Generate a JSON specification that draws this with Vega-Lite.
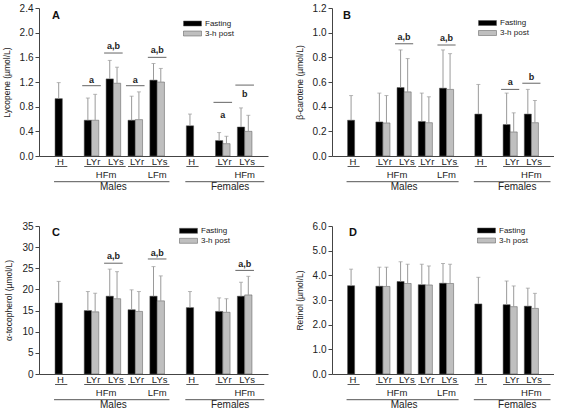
{
"$schema": "https://vega.github.io/schema/vega-lite/v6.json",
"padding": {"left": 2, "top": 3, "right": 0, "bottom": 0},
"config": {"view": {"stroke": null}, "font": "Liberation Sans",
 "axis": {"domainColor": "#444", "tickColor": "#444", "labelColor": "#222", "labelFontSize": 10, "titleFontSize": 8.5, "titleFontWeight": "normal", "titleColor": "#222", "tickSize": 4, "labelPadding": 2, "titlePadding": 8, "grid": false},
 "legend": {"orient": "none", "title": null, "symbolType": "M-1.8,-0.5H1.8V0.5H-1.8Z", "symbolSize": 100, "labelFontSize": 8, "labelOffset": 7, "rowPadding": 0, "padding": 0, "symbolStrokeWidth": 0.5, "symbolStrokeColor": "#555", "labelColor": "#222"},
 "title": {"anchor": "start", "frame": "group", "orient": "top", "offset": 0, "baseline": "top", "fontSize": 11, "fontWeight": "bold", "color": "#111"}
},
"datasets": {
 "bars_A": [
  {"bar": "M-H", "time": "Fasting", "value": 0.93, "upper": 1.19},
  {"bar": "M-HFm-LYr-F", "time": "Fasting", "value": 0.58, "upper": 0.94},
  {"bar": "M-HFm-LYr-P", "time": "3-h post", "value": 0.58, "upper": 1.0},
  {"bar": "M-HFm-LYs-F", "time": "Fasting", "value": 1.25, "upper": 1.55},
  {"bar": "M-HFm-LYs-P", "time": "3-h post", "value": 1.18, "upper": 1.44},
  {"bar": "M-LFm-LYr-F", "time": "Fasting", "value": 0.58, "upper": 0.97},
  {"bar": "M-LFm-LYr-P", "time": "3-h post", "value": 0.59, "upper": 1.04},
  {"bar": "M-LFm-LYs-F", "time": "Fasting", "value": 1.23, "upper": 1.5},
  {"bar": "M-LFm-LYs-P", "time": "3-h post", "value": 1.2, "upper": 1.42},
  {"bar": "F-H", "time": "Fasting", "value": 0.49, "upper": 0.68},
  {"bar": "F-HFm-LYr-F", "time": "Fasting", "value": 0.25, "upper": 0.38},
  {"bar": "F-HFm-LYr-P", "time": "3-h post", "value": 0.2, "upper": 0.32},
  {"bar": "F-HFm-LYs-F", "time": "Fasting", "value": 0.47, "upper": 0.78},
  {"bar": "F-HFm-LYs-P", "time": "3-h post", "value": 0.4, "upper": 0.66}
 ],
 "bars_B": [
  {"bar": "M-H", "time": "Fasting", "value": 0.29, "upper": 0.49},
  {"bar": "M-HFm-LYr-F", "time": "Fasting", "value": 0.276, "upper": 0.51},
  {"bar": "M-HFm-LYr-P", "time": "3-h post", "value": 0.268, "upper": 0.49},
  {"bar": "M-HFm-LYs-F", "time": "Fasting", "value": 0.555, "upper": 0.86},
  {"bar": "M-HFm-LYs-P", "time": "3-h post", "value": 0.52, "upper": 0.79},
  {"bar": "M-LFm-LYr-F", "time": "Fasting", "value": 0.28, "upper": 0.51},
  {"bar": "M-LFm-LYr-P", "time": "3-h post", "value": 0.27, "upper": 0.48},
  {"bar": "M-LFm-LYs-F", "time": "Fasting", "value": 0.55, "upper": 0.86},
  {"bar": "M-LFm-LYs-P", "time": "3-h post", "value": 0.54, "upper": 0.83},
  {"bar": "F-H", "time": "Fasting", "value": 0.34, "upper": 0.58},
  {"bar": "F-HFm-LYr-F", "time": "Fasting", "value": 0.255, "upper": 0.51},
  {"bar": "F-HFm-LYr-P", "time": "3-h post", "value": 0.195, "upper": 0.35},
  {"bar": "F-HFm-LYs-F", "time": "Fasting", "value": 0.34, "upper": 0.54},
  {"bar": "F-HFm-LYs-P", "time": "3-h post", "value": 0.27, "upper": 0.45}
 ],
 "bars_C": [
  {"bar": "M-H", "time": "Fasting", "value": 16.8, "upper": 21.9},
  {"bar": "M-HFm-LYr-F", "time": "Fasting", "value": 15.0, "upper": 19.5},
  {"bar": "M-HFm-LYr-P", "time": "3-h post", "value": 14.7, "upper": 19.1},
  {"bar": "M-HFm-LYs-F", "time": "Fasting", "value": 18.4, "upper": 24.8},
  {"bar": "M-HFm-LYs-P", "time": "3-h post", "value": 17.8, "upper": 24.2},
  {"bar": "M-LFm-LYr-F", "time": "Fasting", "value": 15.2, "upper": 19.9},
  {"bar": "M-LFm-LYr-P", "time": "3-h post", "value": 14.8, "upper": 19.5},
  {"bar": "M-LFm-LYs-F", "time": "Fasting", "value": 18.4, "upper": 25.4},
  {"bar": "M-LFm-LYs-P", "time": "3-h post", "value": 17.3, "upper": 23.2},
  {"bar": "F-H", "time": "Fasting", "value": 15.7, "upper": 19.5},
  {"bar": "F-HFm-LYr-F", "time": "Fasting", "value": 14.8, "upper": 18.0},
  {"bar": "F-HFm-LYr-P", "time": "3-h post", "value": 14.6, "upper": 17.8},
  {"bar": "F-HFm-LYs-F", "time": "Fasting", "value": 18.4, "upper": 21.7},
  {"bar": "F-HFm-LYs-P", "time": "3-h post", "value": 18.7, "upper": 23.1}
 ],
 "bars_D": [
  {"bar": "M-H", "time": "Fasting", "value": 3.58, "upper": 4.25},
  {"bar": "M-HFm-LYr-F", "time": "Fasting", "value": 3.56, "upper": 4.33},
  {"bar": "M-HFm-LYr-P", "time": "3-h post", "value": 3.55, "upper": 4.33},
  {"bar": "M-HFm-LYs-F", "time": "Fasting", "value": 3.75, "upper": 4.55},
  {"bar": "M-HFm-LYs-P", "time": "3-h post", "value": 3.67, "upper": 4.45},
  {"bar": "M-LFm-LYr-F", "time": "Fasting", "value": 3.62, "upper": 4.45},
  {"bar": "M-LFm-LYr-P", "time": "3-h post", "value": 3.61, "upper": 4.38},
  {"bar": "M-LFm-LYs-F", "time": "Fasting", "value": 3.68, "upper": 4.48},
  {"bar": "M-LFm-LYs-P", "time": "3-h post", "value": 3.67, "upper": 4.45},
  {"bar": "F-H", "time": "Fasting", "value": 2.84, "upper": 3.92},
  {"bar": "F-HFm-LYr-F", "time": "Fasting", "value": 2.81, "upper": 3.77},
  {"bar": "F-HFm-LYr-P", "time": "3-h post", "value": 2.73, "upper": 3.57},
  {"bar": "F-HFm-LYs-F", "time": "Fasting", "value": 2.75, "upper": 3.48},
  {"bar": "F-HFm-LYs-P", "time": "3-h post", "value": 2.66, "upper": 3.27}
 ],
 "ann_A": [
  {"from": "M-HFm-LYr-F", "to": "M-HFm-LYr-P", "line": 1.14, "ty": 1.24, "label": "a"},
  {"from": "M-HFm-LYs-F", "to": "M-HFm-LYs-P", "line": 1.67, "ty": 1.78, "label": "a,b"},
  {"from": "M-LFm-LYr-F", "to": "M-LFm-LYr-P", "line": 1.14, "ty": 1.24, "label": "a"},
  {"from": "M-LFm-LYs-F", "to": "M-LFm-LYs-P", "line": 1.6, "ty": 1.72, "label": "a,b"},
  {"from": "F-HFm-LYr-F", "to": "F-HFm-LYr-P", "line": 0.87, "ty": 0.67, "label": "a"},
  {"from": "F-HFm-LYs-F", "to": "F-HFm-LYs-P", "line": 1.15, "ty": 1.01, "label": "b"}
 ],
 "ann_B": [
  {"from": "M-HFm-LYs-F", "to": "M-HFm-LYs-P", "line": 0.91, "ty": 0.967, "label": "a,b"},
  {"from": "M-LFm-LYs-F", "to": "M-LFm-LYs-P", "line": 0.9, "ty": 0.954, "label": "a,b"},
  {"from": "F-HFm-LYr-F", "to": "F-HFm-LYr-P", "line": 0.54, "ty": 0.604, "label": "a"},
  {"from": "F-HFm-LYs-F", "to": "F-HFm-LYs-P", "line": 0.59, "ty": 0.642, "label": "b"}
 ],
 "ann_C": [
  {"from": "M-HFm-LYs-F", "to": "M-HFm-LYs-P", "line": 26.2, "ty": 28.0, "label": "a,b"},
  {"from": "M-LFm-LYs-F", "to": "M-LFm-LYs-P", "line": 27.2, "ty": 28.6, "label": "a,b"},
  {"from": "F-HFm-LYs-F", "to": "F-HFm-LYs-P", "line": 24.5, "ty": 25.9, "label": "a,b"}
 ],
 "labels1": [
  {"at": "M-H", "label": "H"},
  {"at": "M-HFm-LYr-F", "label": "LYr"},
  {"at": "M-HFm-LYs-F", "label": "LYs"},
  {"at": "M-LFm-LYr-F", "label": "LYr"},
  {"at": "M-LFm-LYs-F", "label": "LYs"},
  {"at": "F-H", "label": "H"},
  {"at": "F-HFm-LYr-F", "label": "LYr"},
  {"at": "F-HFm-LYs-F", "label": "LYs"}
 ],
 "under1": [
  {"from": "M-H", "to": "M-H"},
  {"from": "M-HFm-LYr-F", "to": "M-HFm-LYs-P"},
  {"from": "M-LFm-LYr-F", "to": "M-LFm-LYs-P"},
  {"from": "F-H", "to": "F-H"},
  {"from": "F-HFm-LYr-F", "to": "_29"}
 ],
 "labels2": [
  {"at": "M-HFm-LYs-F", "label": "HFm"},
  {"at": "M-LFm-LYs-P", "label": "LFm"},
  {"at": "F-HFm-LYs-P", "label": "HFm"}
 ],
 "under2": [
  {"from": "M-H", "to": "M-LFm-LYs-P"},
  {"from": "F-H", "to": "_29"}
 ],
 "labels3": [
  {"at": "M-HFm-LYs-P", "label": "Males"},
  {"at": "_26", "label": "Females"}
 ]
},
"bounds": "flush",
"columns": 2,
"spacing": {"row": 70, "column": 64},
"resolve": {"scale": {"color": "independent"}, "legend": {"color": "independent"}},
"concat": [
 {
  "width": 229, "height": 148,
  "title": {"text": "A", "dx": 13, "dy": 22},
  "resolve": {"axis": {"x": "independent", "y": "independent"}},
  "layer": [
   {"data": {"name": "bars_A"}, "mark": {"type": "bar", "stroke": "#555", "strokeWidth": 0.5},
    "encoding": {
     "x": {"field": "bar", "type": "nominal", "scale": {"domain": ["_0","_1","M-H","_3","_4","_5","M-HFm-LYr-F","M-HFm-LYr-P","_8","M-HFm-LYs-F","M-HFm-LYs-P","_11","M-LFm-LYr-F","M-LFm-LYr-P","_14","M-LFm-LYs-F","M-LFm-LYs-P","_17","_18","_19","F-H","_21","_22","_23","F-HFm-LYr-F","F-HFm-LYr-P","_26","F-HFm-LYs-F","F-HFm-LYs-P","_29","_30"], "paddingInner": 0, "paddingOuter": 0.2}, "axis": {"labels": false, "ticks": false, "title": null}},
     "y": {"field": "value", "type": "quantitative", "scale": {"domain": [0, 2.4], "nice": false}, "axis": {"title": "Lycopene (µmol/L)", "values": [0, 0.4, 0.8, 1.2, 1.6, 2.0, 2.4], "format": ".1f"}},
     "color": {"field": "time", "type": "nominal", "scale": {"domain": ["Fasting", "3-h post"], "range": ["#000000", "#bfbfbf"]}, "legend": {"legendX": 148, "legendY": 10}}
    }},
   {"data": {"name": "bars_A"}, "mark": {"type": "rule", "color": "#9a9a9a", "strokeWidth": 1},
    "encoding": {
     "x": {"field": "bar", "type": "nominal", "bandPosition": 0.5, "scale": {"domain": ["_0","_1","M-H","_3","_4","_5","M-HFm-LYr-F","M-HFm-LYr-P","_8","M-HFm-LYs-F","M-HFm-LYs-P","_11","M-LFm-LYr-F","M-LFm-LYr-P","_14","M-LFm-LYs-F","M-LFm-LYs-P","_17","_18","_19","F-H","_21","_22","_23","F-HFm-LYr-F","F-HFm-LYr-P","_26","F-HFm-LYs-F","F-HFm-LYs-P","_29","_30"], "paddingInner": 0, "paddingOuter": 0.2}, "axis": null},
     "y": {"field": "value", "type": "quantitative", "scale": {"domain": [0, 2.4], "nice": false}, "axis": null},
     "y2": {"field": "upper"}
    }},
   {"data": {"name": "bars_A"}, "mark": {"type": "tick", "color": "#9a9a9a", "size": 4, "thickness": 1},
    "encoding": {
     "x": {"field": "bar", "type": "nominal", "scale": {"domain": ["_0","_1","M-H","_3","_4","_5","M-HFm-LYr-F","M-HFm-LYr-P","_8","M-HFm-LYs-F","M-HFm-LYs-P","_11","M-LFm-LYr-F","M-LFm-LYr-P","_14","M-LFm-LYs-F","M-LFm-LYs-P","_17","_18","_19","F-H","_21","_22","_23","F-HFm-LYr-F","F-HFm-LYr-P","_26","F-HFm-LYs-F","F-HFm-LYs-P","_29","_30"], "paddingInner": 0, "paddingOuter": 0.2}, "axis": null},
     "y": {"field": "upper", "type": "quantitative", "scale": {"domain": [0, 2.4], "nice": false}, "axis": null}
    }},
   {"data": {"name": "ann_A"}, "mark": {"type": "rule", "color": "#666", "strokeWidth": 1, "xOffset": -2, "x2Offset": 2},
    "encoding": {
     "x": {"field": "from", "type": "nominal", "bandPosition": 0, "scale": {"domain": ["_0","_1","M-H","_3","_4","_5","M-HFm-LYr-F","M-HFm-LYr-P","_8","M-HFm-LYs-F","M-HFm-LYs-P","_11","M-LFm-LYr-F","M-LFm-LYr-P","_14","M-LFm-LYs-F","M-LFm-LYs-P","_17","_18","_19","F-H","_21","_22","_23","F-HFm-LYr-F","F-HFm-LYr-P","_26","F-HFm-LYs-F","F-HFm-LYs-P","_29","_30"], "paddingInner": 0, "paddingOuter": 0.2}, "axis": null},
     "x2": {"field": "to", "bandPosition": 1},
     "y": {"field": "line", "type": "quantitative", "scale": {"domain": [0, 2.4], "nice": false}, "axis": null}
    }},
   {"data": {"name": "ann_A"}, "mark": {"type": "text", "fontSize": 9, "fontWeight": "bold", "baseline": "middle", "color": "#222"},
    "encoding": {
     "x": {"field": "to", "type": "nominal", "bandPosition": 0, "scale": {"domain": ["_0","_1","M-H","_3","_4","_5","M-HFm-LYr-F","M-HFm-LYr-P","_8","M-HFm-LYs-F","M-HFm-LYs-P","_11","M-LFm-LYr-F","M-LFm-LYr-P","_14","M-LFm-LYs-F","M-LFm-LYs-P","_17","_18","_19","F-H","_21","_22","_23","F-HFm-LYr-F","F-HFm-LYr-P","_26","F-HFm-LYs-F","F-HFm-LYs-P","_29","_30"], "paddingInner": 0, "paddingOuter": 0.2}, "axis": null},
     "y": {"field": "ty", "type": "quantitative", "scale": {"domain": [0, 2.4], "nice": false}, "axis": null},
     "text": {"field": "label"}
    }},
   {"data": {"name": "labels1"}, "mark": {"type": "text", "align": "left", "baseline": "alphabetic", "dx": 2, "fontSize": 9.5, "color": "#222"},
    "encoding": {
     "x": {"field": "at", "type": "nominal", "bandPosition": 0, "scale": {"domain": ["_0","_1","M-H","_3","_4","_5","M-HFm-LYr-F","M-HFm-LYr-P","_8","M-HFm-LYs-F","M-HFm-LYs-P","_11","M-LFm-LYr-F","M-LFm-LYr-P","_14","M-LFm-LYs-F","M-LFm-LYs-P","_17","_18","_19","F-H","_21","_22","_23","F-HFm-LYr-F","F-HFm-LYr-P","_26","F-HFm-LYs-F","F-HFm-LYs-P","_29","_30"], "paddingInner": 0, "paddingOuter": 0.2}, "axis": null},
     "y": {"value": 156.5},
     "text": {"field": "label"}
    }},
   {"data": {"name": "under1"}, "mark": {"type": "rule", "color": "#555", "strokeWidth": 1, "x2Offset": 5},
    "encoding": {
     "x": {"field": "from", "type": "nominal", "bandPosition": 0, "scale": {"domain": ["_0","_1","M-H","_3","_4","_5","M-HFm-LYr-F","M-HFm-LYr-P","_8","M-HFm-LYs-F","M-HFm-LYs-P","_11","M-LFm-LYr-F","M-LFm-LYr-P","_14","M-LFm-LYs-F","M-LFm-LYs-P","_17","_18","_19","F-H","_21","_22","_23","F-HFm-LYr-F","F-HFm-LYr-P","_26","F-HFm-LYs-F","F-HFm-LYs-P","_29","_30"], "paddingInner": 0, "paddingOuter": 0.2}, "axis": null},
     "x2": {"field": "to", "bandPosition": 1},
     "y": {"value": 158.5}
    }},
   {"data": {"name": "labels2"}, "mark": {"type": "text", "align": "center", "baseline": "alphabetic", "fontSize": 9.5, "color": "#222"},
    "encoding": {
     "x": {"field": "at", "type": "nominal", "bandPosition": 0, "scale": {"domain": ["_0","_1","M-H","_3","_4","_5","M-HFm-LYr-F","M-HFm-LYr-P","_8","M-HFm-LYs-F","M-HFm-LYs-P","_11","M-LFm-LYr-F","M-LFm-LYr-P","_14","M-LFm-LYs-F","M-LFm-LYs-P","_17","_18","_19","F-H","_21","_22","_23","F-HFm-LYr-F","F-HFm-LYr-P","_26","F-HFm-LYs-F","F-HFm-LYs-P","_29","_30"], "paddingInner": 0, "paddingOuter": 0.2}, "axis": null},
     "y": {"value": 170.3},
     "text": {"field": "label"}
    }},
   {"data": {"name": "under2"}, "mark": {"type": "rule", "color": "#555", "strokeWidth": 1, "xOffset": -1, "x2Offset": 5},
    "encoding": {
     "x": {"field": "from", "type": "nominal", "bandPosition": 0, "scale": {"domain": ["_0","_1","M-H","_3","_4","_5","M-HFm-LYr-F","M-HFm-LYr-P","_8","M-HFm-LYs-F","M-HFm-LYs-P","_11","M-LFm-LYr-F","M-LFm-LYr-P","_14","M-LFm-LYs-F","M-LFm-LYs-P","_17","_18","_19","F-H","_21","_22","_23","F-HFm-LYr-F","F-HFm-LYr-P","_26","F-HFm-LYs-F","F-HFm-LYs-P","_29","_30"], "paddingInner": 0, "paddingOuter": 0.2}, "axis": null},
     "x2": {"field": "to", "bandPosition": 1},
     "y": {"value": 173.7}
    }},
   {"data": {"name": "labels3"}, "mark": {"type": "text", "align": "center", "baseline": "alphabetic", "fontSize": 10, "color": "#222"},
    "encoding": {
     "x": {"field": "at", "type": "nominal", "bandPosition": 0, "scale": {"domain": ["_0","_1","M-H","_3","_4","_5","M-HFm-LYr-F","M-HFm-LYr-P","_8","M-HFm-LYs-F","M-HFm-LYs-P","_11","M-LFm-LYr-F","M-LFm-LYr-P","_14","M-LFm-LYs-F","M-LFm-LYs-P","_17","_18","_19","F-H","_21","_22","_23","F-HFm-LYr-F","F-HFm-LYr-P","_26","F-HFm-LYs-F","F-HFm-LYs-P","_29","_30"], "paddingInner": 0, "paddingOuter": 0.2}, "axis": null},
     "y": {"value": 182.3},
     "text": {"field": "label"}
    }}
  ]
 },
 {
  "width": 222, "height": 148,
  "title": {"text": "B", "dx": 11, "dy": 22},
  "resolve": {"axis": {"x": "independent", "y": "independent"}},
  "layer": [
   {"data": {"name": "bars_B"}, "mark": {"type": "bar", "stroke": "#555", "strokeWidth": 0.5},
    "encoding": {
     "x": {"field": "bar", "type": "nominal", "scale": {"domain": ["_0","_1","M-H","_3","_4","_5","M-HFm-LYr-F","M-HFm-LYr-P","_8","M-HFm-LYs-F","M-HFm-LYs-P","_11","M-LFm-LYr-F","M-LFm-LYr-P","_14","M-LFm-LYs-F","M-LFm-LYs-P","_17","_18","_19","F-H","_21","_22","_23","F-HFm-LYr-F","F-HFm-LYr-P","_26","F-HFm-LYs-F","F-HFm-LYs-P","_29","_30"], "paddingInner": 0, "paddingOuter": 0.2}, "axis": {"labels": false, "ticks": false, "title": null}},
     "y": {"field": "value", "type": "quantitative", "scale": {"domain": [0, 1.2], "nice": false}, "axis": {"title": "β-carotene (µmol/L)", "values": [0, 0.2, 0.4, 0.6, 0.8, 1.0, 1.2], "format": ".1f"}},
     "color": {"field": "time", "type": "nominal", "scale": {"domain": ["Fasting", "3-h post"], "range": ["#000000", "#bfbfbf"]}, "legend": {"legendX": 150, "legendY": 9.5}}
    }},
   {"data": {"name": "bars_B"}, "mark": {"type": "rule", "color": "#9a9a9a", "strokeWidth": 1},
    "encoding": {
     "x": {"field": "bar", "type": "nominal", "bandPosition": 0.5, "scale": {"domain": ["_0","_1","M-H","_3","_4","_5","M-HFm-LYr-F","M-HFm-LYr-P","_8","M-HFm-LYs-F","M-HFm-LYs-P","_11","M-LFm-LYr-F","M-LFm-LYr-P","_14","M-LFm-LYs-F","M-LFm-LYs-P","_17","_18","_19","F-H","_21","_22","_23","F-HFm-LYr-F","F-HFm-LYr-P","_26","F-HFm-LYs-F","F-HFm-LYs-P","_29","_30"], "paddingInner": 0, "paddingOuter": 0.2}, "axis": null},
     "y": {"field": "value", "type": "quantitative", "scale": {"domain": [0, 1.2], "nice": false}, "axis": null},
     "y2": {"field": "upper"}
    }},
   {"data": {"name": "bars_B"}, "mark": {"type": "tick", "color": "#9a9a9a", "size": 4, "thickness": 1},
    "encoding": {
     "x": {"field": "bar", "type": "nominal", "scale": {"domain": ["_0","_1","M-H","_3","_4","_5","M-HFm-LYr-F","M-HFm-LYr-P","_8","M-HFm-LYs-F","M-HFm-LYs-P","_11","M-LFm-LYr-F","M-LFm-LYr-P","_14","M-LFm-LYs-F","M-LFm-LYs-P","_17","_18","_19","F-H","_21","_22","_23","F-HFm-LYr-F","F-HFm-LYr-P","_26","F-HFm-LYs-F","F-HFm-LYs-P","_29","_30"], "paddingInner": 0, "paddingOuter": 0.2}, "axis": null},
     "y": {"field": "upper", "type": "quantitative", "scale": {"domain": [0, 1.2], "nice": false}, "axis": null}
    }},
   {"data": {"name": "ann_B"}, "mark": {"type": "rule", "color": "#666", "strokeWidth": 1, "xOffset": -2, "x2Offset": 2},
    "encoding": {
     "x": {"field": "from", "type": "nominal", "bandPosition": 0, "scale": {"domain": ["_0","_1","M-H","_3","_4","_5","M-HFm-LYr-F","M-HFm-LYr-P","_8","M-HFm-LYs-F","M-HFm-LYs-P","_11","M-LFm-LYr-F","M-LFm-LYr-P","_14","M-LFm-LYs-F","M-LFm-LYs-P","_17","_18","_19","F-H","_21","_22","_23","F-HFm-LYr-F","F-HFm-LYr-P","_26","F-HFm-LYs-F","F-HFm-LYs-P","_29","_30"], "paddingInner": 0, "paddingOuter": 0.2}, "axis": null},
     "x2": {"field": "to", "bandPosition": 1},
     "y": {"field": "line", "type": "quantitative", "scale": {"domain": [0, 1.2], "nice": false}, "axis": null}
    }},
   {"data": {"name": "ann_B"}, "mark": {"type": "text", "fontSize": 9, "fontWeight": "bold", "baseline": "middle", "color": "#222"},
    "encoding": {
     "x": {"field": "to", "type": "nominal", "bandPosition": 0, "scale": {"domain": ["_0","_1","M-H","_3","_4","_5","M-HFm-LYr-F","M-HFm-LYr-P","_8","M-HFm-LYs-F","M-HFm-LYs-P","_11","M-LFm-LYr-F","M-LFm-LYr-P","_14","M-LFm-LYs-F","M-LFm-LYs-P","_17","_18","_19","F-H","_21","_22","_23","F-HFm-LYr-F","F-HFm-LYr-P","_26","F-HFm-LYs-F","F-HFm-LYs-P","_29","_30"], "paddingInner": 0, "paddingOuter": 0.2}, "axis": null},
     "y": {"field": "ty", "type": "quantitative", "scale": {"domain": [0, 1.2], "nice": false}, "axis": null},
     "text": {"field": "label"}
    }},
   {"data": {"name": "labels1"}, "mark": {"type": "text", "align": "left", "baseline": "alphabetic", "dx": 2, "fontSize": 9.5, "color": "#222"},
    "encoding": {
     "x": {"field": "at", "type": "nominal", "bandPosition": 0, "scale": {"domain": ["_0","_1","M-H","_3","_4","_5","M-HFm-LYr-F","M-HFm-LYr-P","_8","M-HFm-LYs-F","M-HFm-LYs-P","_11","M-LFm-LYr-F","M-LFm-LYr-P","_14","M-LFm-LYs-F","M-LFm-LYs-P","_17","_18","_19","F-H","_21","_22","_23","F-HFm-LYr-F","F-HFm-LYr-P","_26","F-HFm-LYs-F","F-HFm-LYs-P","_29","_30"], "paddingInner": 0, "paddingOuter": 0.2}, "axis": null},
     "y": {"value": 156.5},
     "text": {"field": "label"}
    }},
   {"data": {"name": "under1"}, "mark": {"type": "rule", "color": "#555", "strokeWidth": 1, "x2Offset": 5},
    "encoding": {
     "x": {"field": "from", "type": "nominal", "bandPosition": 0, "scale": {"domain": ["_0","_1","M-H","_3","_4","_5","M-HFm-LYr-F","M-HFm-LYr-P","_8","M-HFm-LYs-F","M-HFm-LYs-P","_11","M-LFm-LYr-F","M-LFm-LYr-P","_14","M-LFm-LYs-F","M-LFm-LYs-P","_17","_18","_19","F-H","_21","_22","_23","F-HFm-LYr-F","F-HFm-LYr-P","_26","F-HFm-LYs-F","F-HFm-LYs-P","_29","_30"], "paddingInner": 0, "paddingOuter": 0.2}, "axis": null},
     "x2": {"field": "to", "bandPosition": 1},
     "y": {"value": 158.5}
    }},
   {"data": {"name": "labels2"}, "mark": {"type": "text", "align": "center", "baseline": "alphabetic", "fontSize": 9.5, "color": "#222"},
    "encoding": {
     "x": {"field": "at", "type": "nominal", "bandPosition": 0, "scale": {"domain": ["_0","_1","M-H","_3","_4","_5","M-HFm-LYr-F","M-HFm-LYr-P","_8","M-HFm-LYs-F","M-HFm-LYs-P","_11","M-LFm-LYr-F","M-LFm-LYr-P","_14","M-LFm-LYs-F","M-LFm-LYs-P","_17","_18","_19","F-H","_21","_22","_23","F-HFm-LYr-F","F-HFm-LYr-P","_26","F-HFm-LYs-F","F-HFm-LYs-P","_29","_30"], "paddingInner": 0, "paddingOuter": 0.2}, "axis": null},
     "y": {"value": 170.3},
     "text": {"field": "label"}
    }},
   {"data": {"name": "under2"}, "mark": {"type": "rule", "color": "#555", "strokeWidth": 1, "xOffset": -1, "x2Offset": 5},
    "encoding": {
     "x": {"field": "from", "type": "nominal", "bandPosition": 0, "scale": {"domain": ["_0","_1","M-H","_3","_4","_5","M-HFm-LYr-F","M-HFm-LYr-P","_8","M-HFm-LYs-F","M-HFm-LYs-P","_11","M-LFm-LYr-F","M-LFm-LYr-P","_14","M-LFm-LYs-F","M-LFm-LYs-P","_17","_18","_19","F-H","_21","_22","_23","F-HFm-LYr-F","F-HFm-LYr-P","_26","F-HFm-LYs-F","F-HFm-LYs-P","_29","_30"], "paddingInner": 0, "paddingOuter": 0.2}, "axis": null},
     "x2": {"field": "to", "bandPosition": 1},
     "y": {"value": 173.7}
    }},
   {"data": {"name": "labels3"}, "mark": {"type": "text", "align": "center", "baseline": "alphabetic", "fontSize": 10, "color": "#222"},
    "encoding": {
     "x": {"field": "at", "type": "nominal", "bandPosition": 0, "scale": {"domain": ["_0","_1","M-H","_3","_4","_5","M-HFm-LYr-F","M-HFm-LYr-P","_8","M-HFm-LYs-F","M-HFm-LYs-P","_11","M-LFm-LYr-F","M-LFm-LYr-P","_14","M-LFm-LYs-F","M-LFm-LYs-P","_17","_18","_19","F-H","_21","_22","_23","F-HFm-LYr-F","F-HFm-LYr-P","_26","F-HFm-LYs-F","F-HFm-LYs-P","_29","_30"], "paddingInner": 0, "paddingOuter": 0.2}, "axis": null},
     "y": {"value": 182.3},
     "text": {"field": "label"}
    }}
  ]
 },
 {
  "width": 229, "height": 148,
  "title": {"text": "C", "dx": 13, "dy": 21},
  "resolve": {"axis": {"x": "independent", "y": "independent"}},
  "layer": [
   {"data": {"name": "bars_C"}, "mark": {"type": "bar", "stroke": "#555", "strokeWidth": 0.5},
    "encoding": {
     "x": {"field": "bar", "type": "nominal", "scale": {"domain": ["_0","_1","M-H","_3","_4","_5","M-HFm-LYr-F","M-HFm-LYr-P","_8","M-HFm-LYs-F","M-HFm-LYs-P","_11","M-LFm-LYr-F","M-LFm-LYr-P","_14","M-LFm-LYs-F","M-LFm-LYs-P","_17","_18","_19","F-H","_21","_22","_23","F-HFm-LYr-F","F-HFm-LYr-P","_26","F-HFm-LYs-F","F-HFm-LYs-P","_29","_30"], "paddingInner": 0, "paddingOuter": 0.2}, "axis": {"labels": false, "ticks": false, "title": null}},
     "y": {"field": "value", "type": "quantitative", "scale": {"domain": [0, 35], "nice": false}, "axis": {"title": "α-tocopherol (µmol/L)", "values": [0, 5, 10, 15, 20, 25, 30, 35], "format": "d"}},
     "color": {"field": "time", "type": "nominal", "scale": {"domain": ["Fasting", "3-h post"], "range": ["#000000", "#bfbfbf"]}, "legend": {"legendX": 144, "legendY": -0.7}}
    }},
   {"data": {"name": "bars_C"}, "mark": {"type": "rule", "color": "#9a9a9a", "strokeWidth": 1},
    "encoding": {
     "x": {"field": "bar", "type": "nominal", "bandPosition": 0.5, "scale": {"domain": ["_0","_1","M-H","_3","_4","_5","M-HFm-LYr-F","M-HFm-LYr-P","_8","M-HFm-LYs-F","M-HFm-LYs-P","_11","M-LFm-LYr-F","M-LFm-LYr-P","_14","M-LFm-LYs-F","M-LFm-LYs-P","_17","_18","_19","F-H","_21","_22","_23","F-HFm-LYr-F","F-HFm-LYr-P","_26","F-HFm-LYs-F","F-HFm-LYs-P","_29","_30"], "paddingInner": 0, "paddingOuter": 0.2}, "axis": null},
     "y": {"field": "value", "type": "quantitative", "scale": {"domain": [0, 35], "nice": false}, "axis": null},
     "y2": {"field": "upper"}
    }},
   {"data": {"name": "bars_C"}, "mark": {"type": "tick", "color": "#9a9a9a", "size": 4, "thickness": 1},
    "encoding": {
     "x": {"field": "bar", "type": "nominal", "scale": {"domain": ["_0","_1","M-H","_3","_4","_5","M-HFm-LYr-F","M-HFm-LYr-P","_8","M-HFm-LYs-F","M-HFm-LYs-P","_11","M-LFm-LYr-F","M-LFm-LYr-P","_14","M-LFm-LYs-F","M-LFm-LYs-P","_17","_18","_19","F-H","_21","_22","_23","F-HFm-LYr-F","F-HFm-LYr-P","_26","F-HFm-LYs-F","F-HFm-LYs-P","_29","_30"], "paddingInner": 0, "paddingOuter": 0.2}, "axis": null},
     "y": {"field": "upper", "type": "quantitative", "scale": {"domain": [0, 35], "nice": false}, "axis": null}
    }},
   {"data": {"name": "ann_C"}, "mark": {"type": "rule", "color": "#666", "strokeWidth": 1, "xOffset": -2, "x2Offset": 2},
    "encoding": {
     "x": {"field": "from", "type": "nominal", "bandPosition": 0, "scale": {"domain": ["_0","_1","M-H","_3","_4","_5","M-HFm-LYr-F","M-HFm-LYr-P","_8","M-HFm-LYs-F","M-HFm-LYs-P","_11","M-LFm-LYr-F","M-LFm-LYr-P","_14","M-LFm-LYs-F","M-LFm-LYs-P","_17","_18","_19","F-H","_21","_22","_23","F-HFm-LYr-F","F-HFm-LYr-P","_26","F-HFm-LYs-F","F-HFm-LYs-P","_29","_30"], "paddingInner": 0, "paddingOuter": 0.2}, "axis": null},
     "x2": {"field": "to", "bandPosition": 1},
     "y": {"field": "line", "type": "quantitative", "scale": {"domain": [0, 35], "nice": false}, "axis": null}
    }},
   {"data": {"name": "ann_C"}, "mark": {"type": "text", "fontSize": 9, "fontWeight": "bold", "baseline": "middle", "color": "#222"},
    "encoding": {
     "x": {"field": "to", "type": "nominal", "bandPosition": 0, "scale": {"domain": ["_0","_1","M-H","_3","_4","_5","M-HFm-LYr-F","M-HFm-LYr-P","_8","M-HFm-LYs-F","M-HFm-LYs-P","_11","M-LFm-LYr-F","M-LFm-LYr-P","_14","M-LFm-LYs-F","M-LFm-LYs-P","_17","_18","_19","F-H","_21","_22","_23","F-HFm-LYr-F","F-HFm-LYr-P","_26","F-HFm-LYs-F","F-HFm-LYs-P","_29","_30"], "paddingInner": 0, "paddingOuter": 0.2}, "axis": null},
     "y": {"field": "ty", "type": "quantitative", "scale": {"domain": [0, 35], "nice": false}, "axis": null},
     "text": {"field": "label"}
    }},
   {"data": {"name": "labels1"}, "mark": {"type": "text", "align": "left", "baseline": "alphabetic", "dx": 2, "fontSize": 9.5, "color": "#222"},
    "encoding": {
     "x": {"field": "at", "type": "nominal", "bandPosition": 0, "scale": {"domain": ["_0","_1","M-H","_3","_4","_5","M-HFm-LYr-F","M-HFm-LYr-P","_8","M-HFm-LYs-F","M-HFm-LYs-P","_11","M-LFm-LYr-F","M-LFm-LYr-P","_14","M-LFm-LYs-F","M-LFm-LYs-P","_17","_18","_19","F-H","_21","_22","_23","F-HFm-LYr-F","F-HFm-LYr-P","_26","F-HFm-LYs-F","F-HFm-LYs-P","_29","_30"], "paddingInner": 0, "paddingOuter": 0.2}, "axis": null},
     "y": {"value": 156.5},
     "text": {"field": "label"}
    }},
   {"data": {"name": "under1"}, "mark": {"type": "rule", "color": "#555", "strokeWidth": 1, "x2Offset": 5},
    "encoding": {
     "x": {"field": "from", "type": "nominal", "bandPosition": 0, "scale": {"domain": ["_0","_1","M-H","_3","_4","_5","M-HFm-LYr-F","M-HFm-LYr-P","_8","M-HFm-LYs-F","M-HFm-LYs-P","_11","M-LFm-LYr-F","M-LFm-LYr-P","_14","M-LFm-LYs-F","M-LFm-LYs-P","_17","_18","_19","F-H","_21","_22","_23","F-HFm-LYr-F","F-HFm-LYr-P","_26","F-HFm-LYs-F","F-HFm-LYs-P","_29","_30"], "paddingInner": 0, "paddingOuter": 0.2}, "axis": null},
     "x2": {"field": "to", "bandPosition": 1},
     "y": {"value": 158.5}
    }},
   {"data": {"name": "labels2"}, "mark": {"type": "text", "align": "center", "baseline": "alphabetic", "fontSize": 9.5, "color": "#222"},
    "encoding": {
     "x": {"field": "at", "type": "nominal", "bandPosition": 0, "scale": {"domain": ["_0","_1","M-H","_3","_4","_5","M-HFm-LYr-F","M-HFm-LYr-P","_8","M-HFm-LYs-F","M-HFm-LYs-P","_11","M-LFm-LYr-F","M-LFm-LYr-P","_14","M-LFm-LYs-F","M-LFm-LYs-P","_17","_18","_19","F-H","_21","_22","_23","F-HFm-LYr-F","F-HFm-LYr-P","_26","F-HFm-LYs-F","F-HFm-LYs-P","_29","_30"], "paddingInner": 0, "paddingOuter": 0.2}, "axis": null},
     "y": {"value": 170.3},
     "text": {"field": "label"}
    }},
   {"data": {"name": "under2"}, "mark": {"type": "rule", "color": "#555", "strokeWidth": 1, "xOffset": -1, "x2Offset": 5},
    "encoding": {
     "x": {"field": "from", "type": "nominal", "bandPosition": 0, "scale": {"domain": ["_0","_1","M-H","_3","_4","_5","M-HFm-LYr-F","M-HFm-LYr-P","_8","M-HFm-LYs-F","M-HFm-LYs-P","_11","M-LFm-LYr-F","M-LFm-LYr-P","_14","M-LFm-LYs-F","M-LFm-LYs-P","_17","_18","_19","F-H","_21","_22","_23","F-HFm-LYr-F","F-HFm-LYr-P","_26","F-HFm-LYs-F","F-HFm-LYs-P","_29","_30"], "paddingInner": 0, "paddingOuter": 0.2}, "axis": null},
     "x2": {"field": "to", "bandPosition": 1},
     "y": {"value": 173.7}
    }},
   {"data": {"name": "labels3"}, "mark": {"type": "text", "align": "center", "baseline": "alphabetic", "fontSize": 10, "color": "#222"},
    "encoding": {
     "x": {"field": "at", "type": "nominal", "bandPosition": 0, "scale": {"domain": ["_0","_1","M-H","_3","_4","_5","M-HFm-LYr-F","M-HFm-LYr-P","_8","M-HFm-LYs-F","M-HFm-LYs-P","_11","M-LFm-LYr-F","M-LFm-LYr-P","_14","M-LFm-LYs-F","M-LFm-LYs-P","_17","_18","_19","F-H","_21","_22","_23","F-HFm-LYr-F","F-HFm-LYr-P","_26","F-HFm-LYs-F","F-HFm-LYs-P","_29","_30"], "paddingInner": 0, "paddingOuter": 0.2}, "axis": null},
     "y": {"value": 182.3},
     "text": {"field": "label"}
    }}
  ]
 },
 {
  "width": 222, "height": 148,
  "title": {"text": "D", "dx": 17, "dy": 21},
  "resolve": {"axis": {"x": "independent", "y": "independent"}},
  "layer": [
   {"data": {"name": "bars_D"}, "mark": {"type": "bar", "stroke": "#555", "strokeWidth": 0.5},
    "encoding": {
     "x": {"field": "bar", "type": "nominal", "scale": {"domain": ["_0","_1","M-H","_3","_4","_5","M-HFm-LYr-F","M-HFm-LYr-P","_8","M-HFm-LYs-F","M-HFm-LYs-P","_11","M-LFm-LYr-F","M-LFm-LYr-P","_14","M-LFm-LYs-F","M-LFm-LYs-P","_17","_18","_19","F-H","_21","_22","_23","F-HFm-LYr-F","F-HFm-LYr-P","_26","F-HFm-LYs-F","F-HFm-LYs-P","_29","_30"], "paddingInner": 0, "paddingOuter": 0.2}, "axis": {"labels": false, "ticks": false, "title": null}},
     "y": {"field": "value", "type": "quantitative", "scale": {"domain": [0, 6], "nice": false}, "axis": {"title": "Retinol (µmol/L)", "values": [0, 1, 2, 3, 4, 5, 6], "format": ".1f"}},
     "color": {"field": "time", "type": "nominal", "scale": {"domain": ["Fasting", "3-h post"], "range": ["#000000", "#bfbfbf"]}, "legend": {"legendX": 149, "legendY": -1}}
    }},
   {"data": {"name": "bars_D"}, "mark": {"type": "rule", "color": "#9a9a9a", "strokeWidth": 1},
    "encoding": {
     "x": {"field": "bar", "type": "nominal", "bandPosition": 0.5, "scale": {"domain": ["_0","_1","M-H","_3","_4","_5","M-HFm-LYr-F","M-HFm-LYr-P","_8","M-HFm-LYs-F","M-HFm-LYs-P","_11","M-LFm-LYr-F","M-LFm-LYr-P","_14","M-LFm-LYs-F","M-LFm-LYs-P","_17","_18","_19","F-H","_21","_22","_23","F-HFm-LYr-F","F-HFm-LYr-P","_26","F-HFm-LYs-F","F-HFm-LYs-P","_29","_30"], "paddingInner": 0, "paddingOuter": 0.2}, "axis": null},
     "y": {"field": "value", "type": "quantitative", "scale": {"domain": [0, 6], "nice": false}, "axis": null},
     "y2": {"field": "upper"}
    }},
   {"data": {"name": "bars_D"}, "mark": {"type": "tick", "color": "#9a9a9a", "size": 4, "thickness": 1},
    "encoding": {
     "x": {"field": "bar", "type": "nominal", "scale": {"domain": ["_0","_1","M-H","_3","_4","_5","M-HFm-LYr-F","M-HFm-LYr-P","_8","M-HFm-LYs-F","M-HFm-LYs-P","_11","M-LFm-LYr-F","M-LFm-LYr-P","_14","M-LFm-LYs-F","M-LFm-LYs-P","_17","_18","_19","F-H","_21","_22","_23","F-HFm-LYr-F","F-HFm-LYr-P","_26","F-HFm-LYs-F","F-HFm-LYs-P","_29","_30"], "paddingInner": 0, "paddingOuter": 0.2}, "axis": null},
     "y": {"field": "upper", "type": "quantitative", "scale": {"domain": [0, 6], "nice": false}, "axis": null}
    }},
   {"data": {"name": "labels1"}, "mark": {"type": "text", "align": "left", "baseline": "alphabetic", "dx": 2, "fontSize": 9.5, "color": "#222"},
    "encoding": {
     "x": {"field": "at", "type": "nominal", "bandPosition": 0, "scale": {"domain": ["_0","_1","M-H","_3","_4","_5","M-HFm-LYr-F","M-HFm-LYr-P","_8","M-HFm-LYs-F","M-HFm-LYs-P","_11","M-LFm-LYr-F","M-LFm-LYr-P","_14","M-LFm-LYs-F","M-LFm-LYs-P","_17","_18","_19","F-H","_21","_22","_23","F-HFm-LYr-F","F-HFm-LYr-P","_26","F-HFm-LYs-F","F-HFm-LYs-P","_29","_30"], "paddingInner": 0, "paddingOuter": 0.2}, "axis": null},
     "y": {"value": 156.5},
     "text": {"field": "label"}
    }},
   {"data": {"name": "under1"}, "mark": {"type": "rule", "color": "#555", "strokeWidth": 1, "x2Offset": 5},
    "encoding": {
     "x": {"field": "from", "type": "nominal", "bandPosition": 0, "scale": {"domain": ["_0","_1","M-H","_3","_4","_5","M-HFm-LYr-F","M-HFm-LYr-P","_8","M-HFm-LYs-F","M-HFm-LYs-P","_11","M-LFm-LYr-F","M-LFm-LYr-P","_14","M-LFm-LYs-F","M-LFm-LYs-P","_17","_18","_19","F-H","_21","_22","_23","F-HFm-LYr-F","F-HFm-LYr-P","_26","F-HFm-LYs-F","F-HFm-LYs-P","_29","_30"], "paddingInner": 0, "paddingOuter": 0.2}, "axis": null},
     "x2": {"field": "to", "bandPosition": 1},
     "y": {"value": 158.5}
    }},
   {"data": {"name": "labels2"}, "mark": {"type": "text", "align": "center", "baseline": "alphabetic", "fontSize": 9.5, "color": "#222"},
    "encoding": {
     "x": {"field": "at", "type": "nominal", "bandPosition": 0, "scale": {"domain": ["_0","_1","M-H","_3","_4","_5","M-HFm-LYr-F","M-HFm-LYr-P","_8","M-HFm-LYs-F","M-HFm-LYs-P","_11","M-LFm-LYr-F","M-LFm-LYr-P","_14","M-LFm-LYs-F","M-LFm-LYs-P","_17","_18","_19","F-H","_21","_22","_23","F-HFm-LYr-F","F-HFm-LYr-P","_26","F-HFm-LYs-F","F-HFm-LYs-P","_29","_30"], "paddingInner": 0, "paddingOuter": 0.2}, "axis": null},
     "y": {"value": 170.3},
     "text": {"field": "label"}
    }},
   {"data": {"name": "under2"}, "mark": {"type": "rule", "color": "#555", "strokeWidth": 1, "xOffset": -1, "x2Offset": 5},
    "encoding": {
     "x": {"field": "from", "type": "nominal", "bandPosition": 0, "scale": {"domain": ["_0","_1","M-H","_3","_4","_5","M-HFm-LYr-F","M-HFm-LYr-P","_8","M-HFm-LYs-F","M-HFm-LYs-P","_11","M-LFm-LYr-F","M-LFm-LYr-P","_14","M-LFm-LYs-F","M-LFm-LYs-P","_17","_18","_19","F-H","_21","_22","_23","F-HFm-LYr-F","F-HFm-LYr-P","_26","F-HFm-LYs-F","F-HFm-LYs-P","_29","_30"], "paddingInner": 0, "paddingOuter": 0.2}, "axis": null},
     "x2": {"field": "to", "bandPosition": 1},
     "y": {"value": 173.7}
    }},
   {"data": {"name": "labels3"}, "mark": {"type": "text", "align": "center", "baseline": "alphabetic", "fontSize": 10, "color": "#222"},
    "encoding": {
     "x": {"field": "at", "type": "nominal", "bandPosition": 0, "scale": {"domain": ["_0","_1","M-H","_3","_4","_5","M-HFm-LYr-F","M-HFm-LYr-P","_8","M-HFm-LYs-F","M-HFm-LYs-P","_11","M-LFm-LYr-F","M-LFm-LYr-P","_14","M-LFm-LYs-F","M-LFm-LYs-P","_17","_18","_19","F-H","_21","_22","_23","F-HFm-LYr-F","F-HFm-LYr-P","_26","F-HFm-LYs-F","F-HFm-LYs-P","_29","_30"], "paddingInner": 0, "paddingOuter": 0.2}, "axis": null},
     "y": {"value": 182.3},
     "text": {"field": "label"}
    }}
  ]
 }
]
}
